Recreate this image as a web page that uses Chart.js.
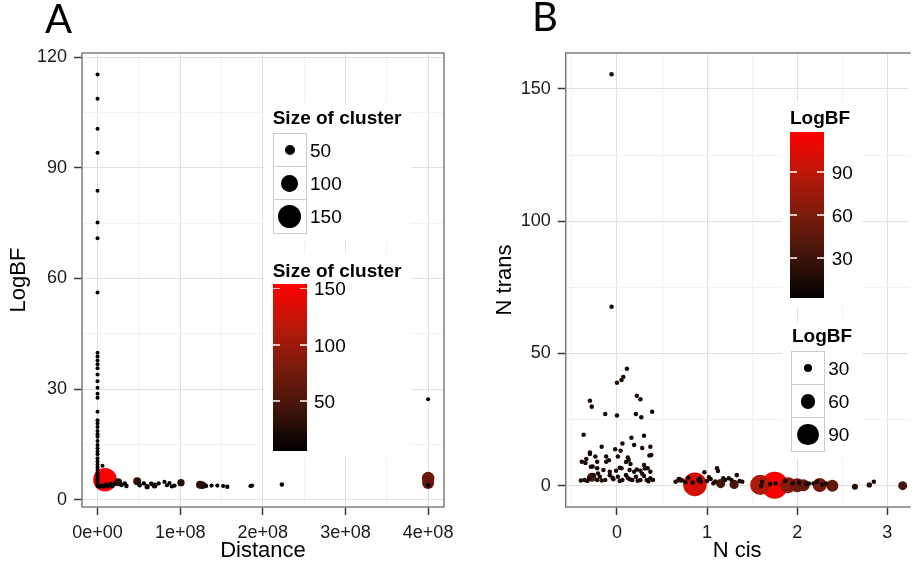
<!DOCTYPE html>
<html>
<head>
<meta charset="utf-8">
<script src="https://cdn.jsdelivr.net/npm/chart.js@4.4.0/dist/chart.umd.min.js"></script>
<style>
html, body { margin: 0; padding: 0; background: #fff; }
body { width: 922px; height: 568px; position: relative; overflow: hidden; font-family: "Liberation Sans", Arial, sans-serif; color: #000; }
canvas { position: absolute; top: 0; }
.letter { position: absolute; font-family: Lato, "Liberation Sans", sans-serif; font-size: 40px; line-height: 1; }
.lg { position: absolute; background: #fff; }
.ttl { position: absolute; font-weight: bold; font-size: 19px; line-height: 1; white-space: nowrap; }
.key { position: absolute; width: 34px; height: 34.8px; box-sizing: border-box; border: 1.5px solid #cccccc; background: #fff; }
.dot { position: absolute; border-radius: 50%; background: #000; }
.lbl { position: absolute; font-size: 19px; line-height: 1; white-space: nowrap; }
.bar { position: absolute; }
.tk { position: absolute; width: 7px; height: 1.5px; background: rgba(255,255,255,0.75); }
</style>
</head>
<body>
<canvas id="chartA" width="461" height="568" style="left:0"></canvas>
<canvas id="chartB" width="461" height="568" style="left:461px"></canvas>
<div class="letter" style="left:45px;top:-2px">A</div>
<div class="letter" style="left:532px;top:-4px">B</div>
<div id="legends"></div>
<script>
// panel A: distance vs LogBF, colour and size = size of cluster
const aDistance = [
  0, 0, 0, 0, 0, 0, 0, 0, 0, 0, 0, 0, 0, 0, 0, 0, 0, 0, 0, 0, 0,
  0, 0, 0, 0, 0, 0, 0, 0, 0, 0, 0, 0, 0, 0, 0, 0, 0, 0, 0, 0, 0,
  6e6, 2e6, 5e6, 7e6, 10e6, 12e6, 14e6, 16e6, 18e6, 20e6, 9e6,
  25e6, 29e6, 33e6, 35e6, 48e6, 51e6, 56e6, 60e6, 65e6, 69e6, 74e6,
  81e6, 84e6, 87e6, 90e6, 93e6, 101e6, 124e6, 127e6, 131e6, 138e6, 145e6,
  152e6, 157e6, 185e6, 187e6, 223e6, 400e6, 400e6, 400e6, 400e6
];
const aLogBF = [
  115.3, 108.7, 100.6, 94.1, 83.8, 75.2, 70.9, 56.2, 39.9, 38.9, 37.8, 36.8, 35.7, 34.0,
  32.2, 30.4, 28.8, 27.7, 23.9, 21.6, 20.7, 19.8, 18.7, 17.8, 17.1, 16.0, 14.9, 14.0,
  13.1, 12.4, 11.3, 10.4, 9.6, 8.8, 8.1, 7.4, 6.8, 6.2, 5.6, 5.0, 4.4, 3.8,
  9.3, 3.6, 3.9, 3.6, 4.2, 3.7, 4.0, 4.4, 3.8, 4.3, 5.5,
  4.8, 4.1, 4.5, 3.8, 5.1, 4.0, 4.5, 3.6, 4.4, 3.9, 4.5,
  4.9, 4.0, 4.6, 3.7, 3.9, 4.7, 4.1, 4.0, 3.8, 3.9, 3.9,
  3.8, 3.6, 3.8, 3.9, 4.2, 27.3, 5.9, 4.6, 4.0
];
const aClusterSize = [
  5, 5, 5, 5, 5, 5, 5, 5, 5, 5, 5, 5, 5, 5, 5, 5, 5, 5, 5, 5, 5,
  5, 5, 5, 5, 5, 5, 5, 5, 5, 5, 5, 5, 5, 5, 5, 5, 5, 5, 5, 5, 5,
  5, 6, 6, 6, 8, 6, 8, 6, 8, 10, 152,
  35, 12, 8, 8, 35, 8, 8, 14, 8, 20, 6,
  6, 6, 6, 8, 8, 30, 35, 30, 10, 6, 6,
  6, 8, 6, 6, 8, 6, 70, 65, 10
];

// panel B: N cis (jittered) vs N trans, colour and size = LogBF
const bNCis = [
  -0.06, -0.06, 0.11, 0.07, 0.05, 0.00, -0.30, -0.28, -0.13, 0.00, 0.22, 0.26, 0.21, 0.27, 0.39,
  -0.37, 0.30, 0.16, 0.19, 0.06, -0.17, -0.02, 0.04, 0.28, 0.37, -0.30, -0.30, 0.38, 0.36, 0.12,
  0.13, -0.12, -0.24, -0.34, -0.39, -0.35, -0.22, -0.12, -0.09, 0.01, 0.10, 0.15, 0.30, 0.31, 0.34,
  0.22, 0.03, -0.27,
  -0.29, -0.22, -0.15, -0.08, -0.01, 0.05, 0.14, 0.19, 0.26, 0.31, 0.37,
  -0.36, -0.31, -0.26, -0.22, -0.19, -0.13, -0.08, -0.04, 0.01, 0.06, 0.10, 0.14, 0.17, 0.21, 0.26,
  0.30, 0.33, 0.37, 0.40, -0.40, -0.33, -0.17, 0.03, 0.23, 0.35, -0.05, 0.12, -0.21, 0.28, -0.28,
  0.65, 0.69, 0.72, 0.76, 0.79, 0.865, 0.90, 0.93, 0.97, 1.00, 1.04, 1.07, 1.11, 1.12, 1.15,
  1.18, 1.20, 1.24, 1.27, 1.30, 1.33, 1.36, 1.39, 0.92, 1.09, 0.84, 1.02,
  1.59, 1.75, 1.61, 1.60, 1.76, 1.90, 1.87, 2.00, 2.07, 2.13, 2.18, 2.25, 2.22, 2.32, 2.39,
  1.95, 2.02, 2.10, 2.28, 1.70,
  2.64, 2.80, 2.85, 3.17
];
const bNTrans = [
  155.6, 67.7, 44.2, 41.1, 40.0, 38.9, 32.1, 29.9, 27.1, 26.5, 34.0, 32.7, 27.1, 25.9, 28.0,
  19.3, 18.9, 18.1, 15.4, 16.0, 14.7, 13.8, 13.2, 14.3, 14.7, 12.6, 12.0, 11.6, 11.4, 10.7,
  9.7, 11.0, 11.0, 10.1, 9.1, 8.6, 9.1, 9.1, 9.6, 11.0, 9.0, 8.2, 7.8, 6.6, 6.6,
  6.1, 6.8, 7.3,
  7.2, 6.6, 5.9, 5.3, 5.7, 6.6, 5.9, 5.3, 5.7, 6.6, 5.3,
  2.2, 2.8, 4.0, 2.2, 3.4, 2.2, 4.0, 2.4, 3.4, 2.2, 4.0, 2.4, 2.2, 3.4, 2.2,
  3.7, 2.2, 2.8, 2.2, 2.0, 1.8, 2.0, 1.8, 1.9, 1.7, 3.0, 3.0, 4.6, 4.5, 3.2,
  1.5, 2.3, 2.0, 1.3, 3.0, 0.5, 2.2, 1.5, 5.1, 1.8, 2.5, 0.9, 6.6, 5.6, 0.8,
  2.8, 2.2, 2.8, 2.2, 0.5, 4.0, 1.8, 1.5, 2.7, 1.6, 1.2, 3.2,
  0.3, 0.2, 1.5, 0.0, 0.9, 0.2, 1.8, 0.2, 0.2, 0.8, 0.8, 0.3, 1.5, 0.8, 0.0,
  0.9, 1.2, 0.6, 0.5, 0.6,
  -0.4, 0.3, 1.5, 0.0
];
const bLogBF = [
  14, 14, 14, 14, 14, 14, 14, 14, 14, 14, 14, 14, 14, 14, 14,
  14, 14, 14, 14, 14, 14, 14, 14, 14, 14, 14, 14, 14, 14, 14,
  14, 14, 14, 14, 14, 14, 14, 14, 14, 14, 14, 14, 14, 14, 14,
  14, 14, 14,
  14, 14, 14, 14, 14, 14, 14, 14, 14, 14, 14,
  14, 14, 14, 14, 14, 14, 14, 14, 14, 14, 14, 14, 14, 14, 14,
  14, 14, 14, 14, 14, 14, 14, 14, 14, 14, 14, 14, 14, 14, 35,
  14, 20, 15, 14, 14, 100, 14, 14, 14, 14, 14, 14, 14, 14, 35,
  14, 14, 14, 14, 35, 14, 14, 14, 14, 14, 14, 14,
  85, 115, 14, 14, 14, 66, 14, 57, 48, 14, 14, 57, 14, 14, 48,
  14, 14, 14, 14, 14,
  21, 18, 14, 34
];

const distTickLabels = ['0e+00', '1e+08', '2e+08', '3e+08', '4e+08'];
const sizeBreaksA = [50, 100, 150];
const sizeBreaksB = [30, 60, 90];

// black -> red ramp (sampled along the Lab path ggplot uses)
const ramp = [[0, 0, 0], [63, 21, 9], [122, 27, 12], [186, 25, 9], [255, 0, 0]];
function rampColor(t) {
  t = Math.max(0, Math.min(1, t));
  const p = t * (ramp.length - 1);
  const i = Math.min(Math.floor(p), ramp.length - 2), f = p - i;
  const c = ramp[i].map((v, k) => Math.round(v + (ramp[i + 1][k] - v) * f));
  return `rgb(${c.join(',')})`;
}
const domA = [6, 154], domB = [2, 118];
const colA = s => rampColor((s - domA[0]) / (domA[1] - domA[0]));
const colB = v => rampColor((v - domB[0]) / (domB[1] - domB[0]));
const radA = s => 1.67 + 0.0667 * s;
const radB = v => 0.7 + 0.111 * v;

// big circles first so the small dots stay visible on top
const toPoints = (xs, ys, vs) => xs.map((x, i) => ({x, y: ys[i], v: vs[i]})).sort((a, b) => b.v - a.v);

const FONT = '"Liberation Sans", Arial, sans-serif';

function axis(o) {
  const onMajor = v => Math.abs(v / o.major - Math.round(v / o.major)) < 1e-6;
  const isMajor = c => c.tick && onMajor(c.tick.value);
  return {
    type: 'linear',
    min: o.min,
    max: o.max,
    afterFit: o.fit,
    // major + minor breaks like ggplot (minor halfway between majors)
    afterBuildTicks: s => {
      const t = [];
      for (let k = Math.ceil(o.min / o.step); k * o.step <= o.max; k++) t.push({ value: k * o.step });
      s.ticks = t;
    },
    border: { display: false },
    grid: {
      color: c => isMajor(c) ? '#e1e1e1' : '#f3f3f3',
      lineWidth: 1,
      tickLength: 8,
      tickWidth: 1.5,
      tickColor: c => isMajor(c) ? '#3a3a3a' : 'rgba(0,0,0,0)',
    },
    ticks: {
      autoSkip: false,
      maxRotation: 0,
      padding: 7,
      color: '#1a1a1a',
      font: { family: FONT, size: 18 },
      callback: v => onMajor(v) ? o.label(v) : '',
    },
    title: { display: true, text: o.title, color: '#000', font: { family: FONT, size: 22 }, padding: o.pad },
  };
}

const frame = {
  id: 'frame',
  afterDraw(chart, args, opts) {
    const { ctx, chartArea: a } = chart;
    ctx.save();
    ctx.strokeStyle = '#7f7f7f';
    ctx.lineWidth = 1.5;
    ctx.beginPath();
    if (opts.open) {
      ctx.moveTo(a.right + 2, a.top);
      ctx.lineTo(a.left, a.top);
      ctx.lineTo(a.left, a.bottom);
      ctx.lineTo(a.right + 2, a.bottom);
    } else {
      ctx.rect(a.left, a.top, a.right - a.left, a.bottom - a.top);
    }
    ctx.stroke();
    ctx.restore();
  }
};

function scatter(id, pts, col, rad, scales, padding, open) {
  return new Chart(document.getElementById(id), {
    type: 'scatter',
    data: {
      datasets: [{
        data: pts,
        backgroundColor: c => col(c.raw.v),
        borderWidth: 0,
        pointRadius: c => rad(c.raw.v),
        pointHoverRadius: c => rad(c.raw.v),
      }]
    },
    options: {
      responsive: false,
      animation: false,
      layout: { padding },
      plugins: { legend: { display: false }, tooltip: { enabled: false }, frame: { open } },
      scales,
    },
    plugins: [frame],
  });
}

scatter('chartA', toPoints(aDistance, aLogBF, aClusterSize), colA, radA, {
  x: axis({ min: -0.188e8, max: 4.192e8, step: 0.5e8, major: 1e8, label: v => distTickLabels[Math.round(v / 1e8)],
            title: 'Distance', pad: { top: 0, bottom: 4 }, fit: s => { s.height = 61; } }),
  y: axis({ min: -1.9, max: 121.1, step: 15, major: 30, label: v => String(v),
            title: 'LogBF', pad: { top: 6, bottom: 0 }, fit: s => { s.width = 82; } }),
}, { top: 53, right: 14, left: 0, bottom: 0 }, false);

scatter('chartB', toPoints(bNCis, bNTrans, bLogBF), colB, radB, {
  x: axis({ min: -0.569, max: 3.235, step: 0.5, major: 1, label: v => String(v),
            title: 'N cis', pad: { top: 0, bottom: 4 }, fit: s => { s.height = 61; } }),
  y: axis({ min: -8.05, max: 163.6, step: 25, major: 50, label: v => String(v),
            title: 'N trans', pad: { top: 31, bottom: 0 }, fit: s => { s.width = 104.7; } }),
}, { top: 53, right: 0, left: 0, bottom: 0 }, true);

// legends (ggplot style guides), built from the same colour/size scales
const host = document.getElementById('legends');
function el(cls, style, text) {
  const d = document.createElement('div');
  d.className = cls;
  Object.assign(d.style, style);
  if (text !== undefined) d.textContent = text;
  host.appendChild(d);
  return d;
}
const px = v => v + 'px';

function sizeGuide(box, title, breaks, rad, titleAt, cellX, cellY, labelX) {
  el('lg', { left: px(box[0]), top: px(box[1]), width: px(box[2]), height: px(box[3]) });
  el('ttl', { left: px(titleAt[0]), top: px(titleAt[1] - 16.1) }, title);
  breaks.forEach((b, i) => {
    const top = cellY + i * 33.3, cy = top + 17.4, r = rad(b);
    el('key', { left: px(cellX), top: px(top) });
    el('dot', { left: px(cellX + 17 - r), top: px(cy - r), width: px(2 * r), height: px(2 * r) });
    el('lbl', { left: px(labelX), top: px(cy - 9.3) }, String(b));
  });
}

function barGuide(box, title, breaks, dom, col, titleAt, bar, labelX) {
  el('lg', { left: px(box[0]), top: px(box[1]), width: px(box[2]), height: px(box[3]) });
  el('ttl', { left: px(titleAt[0]), top: px(titleAt[1] - 16.1) }, title);
  const stops = [];
  for (let k = 0; k <= 10; k++) stops.push(`${col(dom[0] + (dom[1] - dom[0]) * k / 10)} ${k * 10}%`);
  el('bar', { left: px(bar[0]), top: px(bar[1]), width: px(bar[2]), height: px(bar[3]),
              background: `linear-gradient(to top, ${stops.join(', ')})` });
  breaks.forEach(b => {
    const y = bar[1] + (dom[1] - b) / (dom[1] - dom[0]) * bar[3];
    el('tk', { left: px(bar[0]), top: px(y - 0.75) });
    el('tk', { left: px(bar[0] + bar[2] - 7), top: px(y - 0.75) });
    el('lbl', { left: px(labelX), top: px(y - 9.3) }, String(b));
  });
}

sizeGuide([264, 102, 147, 138], 'Size of cluster', sizeBreaksA, radA, [272.7, 124], 272.7, 132.7, 310);
barGuide([264, 253, 147, 205], 'Size of cluster', [150, 100, 50], domA, colA, [272.7, 277], [272.5, 284, 34, 166.7], 314);
barGuide([782, 102, 80, 205], 'LogBF', [90, 60, 30], domB, colB, [790, 124], [790, 131.7, 34, 166.6], 831.7);
sizeGuide([782, 323, 80, 135], 'LogBF', sizeBreaksB, radB, [792, 341.7], 791, 350.7, 828.3);
</script>
</body>
</html>
